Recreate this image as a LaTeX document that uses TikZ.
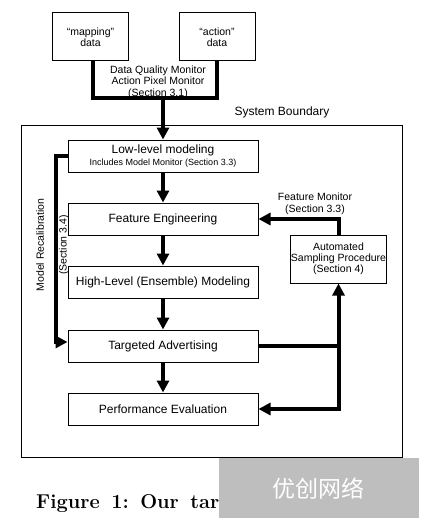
\documentclass[tikz,border=0pt]{standalone}
\usepackage{fontspec}
\newfontfamily\arial{Liberation Sans}
\newfontfamily\cjk{Noto Sans CJK SC}
\usetikzlibrary{arrows.meta,calc}
\definecolor{wmgray}{RGB}{190,190,190}
\begin{document}
\begin{tikzpicture}[x=1pt,y=-1pt,
  box/.style={draw, line width=1pt, inner sep=0pt, align=center, font=\arial\fontsize{12}{13}\selectfont},
  mainbox/.style={box, minimum width=190pt, minimum height=32pt},
  smallbox/.style={box, font=\arial\fontsize{10.5}{11}\selectfont},
  lbl/.style={inner sep=0pt, align=center, font=\arial\fontsize{10.5}{11.5}\selectfont},
  thickline/.style={line width=4pt},
  arr/.style={line width=4pt, -{Triangle[length=12pt,width=12pt]}}
]
\useasboundingbox (0,0) rectangle (424,524);
% top data boxes
\node[smallbox, minimum width=76pt, minimum height=48pt] (map) at (90.5,37) {“mapping”\\data};
\node[smallbox, minimum width=76pt, minimum height=48pt] (act) at (217,37) {“action”\\data};
\node[lbl] (dq) at (158,82) {Data Quality Monitor\\Action Pixel Monitor\\(Section 3.1)};
\node[anchor=center, inner sep=0pt, font=\arial\fontsize{12}{13}\selectfont] (sb) at (282,112) {System Boundary};
% system boundary
\draw[line width=1pt] (21,125) rectangle (402,457);
% main boxes
\node[mainbox] (ll) at (163,156) {Low-level modeling\\[-1.5pt]{\fontsize{9}{10}\selectfont Includes Model Monitor (Section 3.3)}};
\node[mainbox] (fe) at (163,219) {Feature Engineering};
\node[mainbox] (hl) at (163,282) {High-Level (Ensemble) Modeling};
\node[mainbox] (ta) at (163,346) {Targeted Advertising};
\node[mainbox] (pe) at (163,409) {Performance Evaluation};
\node[smallbox, minimum width=95pt, minimum height=48pt] (sp) at (338.5,259) {Automated\\Sampling Procedure\\(Section 4)};
\node[lbl] (fm) at (315,204) {Feature Monitor\\(Section 3.3)};
\node[lbl, rotate=90] (mrl) at (40,245) {Model Recalibration};
\node[lbl, rotate=90] (mrs) at (64,245) {(Section 3.4)};
% connectors
\coordinate (j1) at (93,98);
\coordinate (j2) at (217,98);
\draw[thickline] ($(map.south)+(2.5,0)$) -- (j1) -- (j2) -- (act.south);
\draw[arr] (ll.north |- j1) -- (ll.north);
\draw[arr] (ll) -- (fe);
\draw[arr] (fe) -- (hl);
\draw[arr] (hl) -- (ta);
\draw[arr] (ta) -- (pe);
\draw[arr] (sp.north) |- (fe.east);
\draw[arr] (ta.east) -| (sp.south);
\draw[arr] (sp.south |- ta.east) |- (pe.east);
\coordinate (mr) at (56,342);
\draw[arr] (ll.west) -| (mr) -- (mr -| ta.west);
% caption and watermark
\node[anchor=base west, inner sep=0pt, font=\fontsize{20}{22}\selectfont\bfseries] (cap) at (36,508) {Figure\hspace{11.5pt}1:\hspace{11.5pt}Our\hspace{11.5pt}tar};
\fill[wmgray] (219,458) rectangle (419,518);
\node[inner sep=0pt, text=white, font=\cjk\fontsize{23}{23}\selectfont] (wm) at (318,489) {优创网络};
\end{tikzpicture}
\end{document}
